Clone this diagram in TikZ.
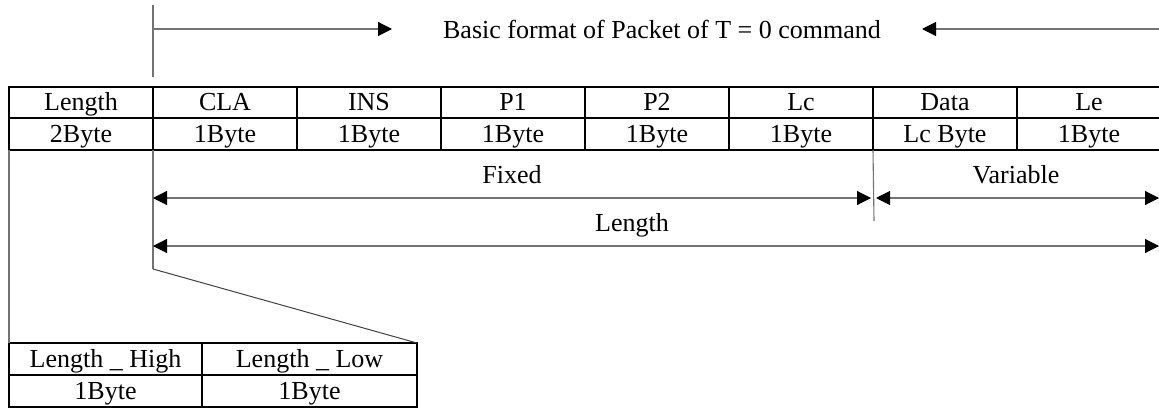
\documentclass[tikz,border=0pt]{standalone}
\usepackage{fontspec}
\setmainfont{Liberation Serif}
\usepackage{tikz}
\usetikzlibrary{arrows.meta, positioning}

\begin{document}
\begin{tikzpicture}[
    x=1pt, y=-1pt,
    cell/.style={draw, line width=1.6pt, minimum width=#1, minimum height=31.5pt, inner sep=0pt, outer sep=0pt,
                 font=\fontsize{26}{30}\selectfont, text height=18pt, text depth=2pt},
    cell/.default=144pt,
    lbl/.style={inner sep=0pt, font=\fontsize{26}{30}\selectfont, anchor=base},
    guide/.style={draw=black!55, line width=1.1pt},
    arr/.style={guide, -{Triangle[length=14pt, width=14pt, color=black]}},
    darr/.style={guide, {Triangle[length=14pt, width=14pt, color=black]}-{Triangle[length=14pt, width=14pt, color=black]}},
]
\useasboundingbox (0,0) rectangle (1159,409);

% Row 1: field names
\node[cell] (len) at (81,102.5) {Length};
\node[cell, right=0pt of len] (cla) {CLA};
\node[cell, right=0pt of cla] (ins) {INS};
\node[cell, right=0pt of ins] (pone) {P1};
\node[cell, right=0pt of pone] (ptwo) {P2};
\node[cell, right=0pt of ptwo] (lc) {Lc};
\node[cell, right=0pt of lc] (data) {Data};
\node[cell, right=0pt of data] (le) {Le};

% Row 2: field sizes
\node[cell, minimum height=32pt, below=0pt of len] (lenbyte) {2Byte};
\node[cell, minimum height=32pt, below=0pt of cla] (clabyte) {1Byte};
\node[cell, minimum height=32pt, below=0pt of ins] (insbyte) {1Byte};
\node[cell, minimum height=32pt, below=0pt of pone] (ponebyte) {1Byte};
\node[cell, minimum height=32pt, below=0pt of ptwo] (ptwobyte) {1Byte};
\node[cell, minimum height=32pt, below=0pt of lc] (lcbyte) {1Byte};
\node[cell, minimum height=32pt, below=0pt of data] (databyte) {Lc Byte};
\node[cell, minimum height=32pt, below=0pt of le] (lebyte) {1Byte};

% Header with arrows
\node[lbl, anchor=center] (hdr) at (662,29) {Basic format of Packet of T = 0 command};
\coordinate (hdrstart) at (153,29);
\coordinate (hdrtipL) at (392,29);
\coordinate (hdrtipR) at (922,29);
\coordinate (hdrend) at (1160,29);
\coordinate (marktop) at (153,5);
\coordinate (markbot) at (153,77);
\draw[guide] (marktop) -- (markbot);
\draw[arr] (hdrstart) -- (hdrtipL);
\draw[arr] (hdrend) -- (hdrtipR);

% Fixed / Variable / Length spans
\coordinate (fold) at (153,269);
\coordinate (split) at (874,221);
\draw[guide] (lenbyte.south east) -- (fold);
\draw[guide] (lcbyte.south east) -- (split);

\coordinate (fixL) at (153,198);
\coordinate (fixR) at (871,198);
\coordinate (varL) at (876,198);
\coordinate (varR) at (1159,198);
\coordinate (totL) at (153,246);
\coordinate (totR) at (1159,246);
\draw[darr] (fixL) -- (fixR);
\draw[darr] (varL) -- (varR);
\draw[darr] (totL) -- (totR);

\node[lbl] (fixed) at (512,183) {Fixed};
\node[lbl] (variable) at (1016,183) {Variable};
\node[lbl] (total) at (632,231) {Length};

% Length field breakdown
\node[cell=193pt, minimum height=32pt] (lenhigh) at (105.5,359) {Length \_ High};
\node[cell=215pt, minimum height=32pt, right=0pt of lenhigh] (lenlow) {Length \_ Low};
\node[cell=193pt, minimum height=32pt, below=0pt of lenhigh] (highbyte) {1Byte};
\node[cell=215pt, minimum height=32pt, below=0pt of lenlow] (lowbyte) {1Byte};

\draw[guide] (lenbyte.south west) -- (lenhigh.north west);
\draw[draw=black!75, line width=1pt] (fold) -- (lenlow.north east);

\end{tikzpicture}
\end{document}
